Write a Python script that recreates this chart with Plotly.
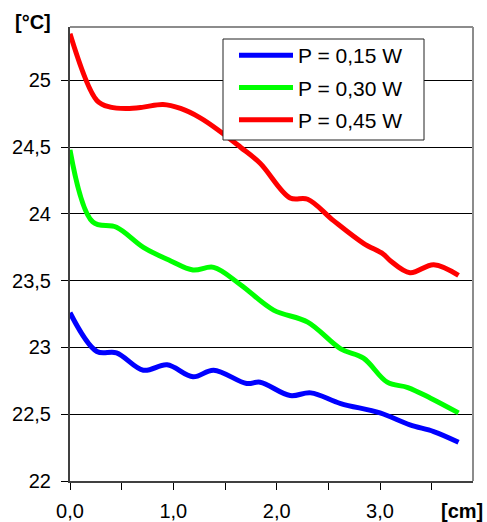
import plotly.graph_objects as go

# Data
x_blue = [0.00, 0.26, 0.45, 0.71, 0.94, 1.19, 1.39, 1.71, 1.84, 2.13, 2.33, 2.62, 3.00, 3.29, 3.52, 3.76]
y_blue = [23.26, 22.97, 22.96, 22.83, 22.87, 22.78, 22.83, 22.73, 22.74, 22.64, 22.66, 22.58, 22.51, 22.42, 22.37, 22.29]

x_green = [0.00, 0.22, 0.45, 0.71, 0.97, 1.19, 1.39, 1.65, 1.97, 2.30, 2.62, 2.84, 3.07, 3.27, 3.49, 3.76]
y_green = [24.48, 23.94, 23.90, 23.75, 23.65, 23.58, 23.60, 23.47, 23.28, 23.19, 22.99, 22.92, 22.74, 22.70, 22.62, 22.51]

x_red = [0.00, 0.26, 0.39, 0.55, 0.71, 0.90, 1.07, 1.26, 1.45, 1.65, 1.84, 2.13, 2.30, 2.55, 2.84, 3.03, 3.10, 3.29, 3.52, 3.76]
y_red = [25.35, 24.85, 24.80, 24.79, 24.80, 24.82, 24.79, 24.72, 24.62, 24.50, 24.38, 24.12, 24.11, 23.95, 23.78, 23.70, 23.65, 23.56, 23.62, 23.54]

series_names = ["P = 0,15 W", "P = 0,30 W", "P = 0,45 W"]
series_colors = ["#0000ff", "#00ff00", "#ff0000"]

x_ticks = [0, 1, 2, 3]
x_ticktext = ["0,0", "1,0", "2,0", "3,0"]
y_ticks = [22, 22.5, 23, 23.5, 24, 24.5, 25]
y_ticktext = ["22", "22,5", "23", "23,5", "24", "24,5", "25"]

FONT = "Liberation Sans, Arial, sans-serif"
W, H = 487, 522
ML, MR, MT, MB = 70, 14, 27, 41
PW, PH = W - ML - MR, H - MT - MB


def px_x(p):
    return (p - ML) / PW


def px_y(p):
    return 1 - (p - MT) / PH


fig = go.Figure()
for i, (xs, ys) in enumerate([(x_blue, y_blue), (x_green, y_green), (x_red, y_red)]):
    fig.add_trace(go.Scatter(
        x=xs, y=ys, mode="lines", name=series_names[i],
        legendgroup=f"g{i}",
        line=dict(color=series_colors[i], width=5, shape="spline", smoothing=1.0),
    ))

fig.update_layout(
    width=W, height=H,
    margin=dict(l=ML, r=MR, t=MT, b=MB, autoexpand=False),
    plot_bgcolor="white", paper_bgcolor="white",
    font=dict(family=FONT, size=20, color="black"),
    showlegend=True,
    legend=dict(
        x=px_x(234), y=px_y(35), xanchor="left", yanchor="top",
        borderwidth=0, bgcolor="rgba(0,0,0,0)",
        font=dict(size=21, family=FONT),
        itemwidth=54, tracegroupgap=2, traceorder="grouped",
    ),
    xaxis=dict(
        range=[0, 3.9], tickvals=x_ticks, ticktext=x_ticktext,
        ticks="outside", ticklen=7, tickwidth=1, tickcolor="black",
        showline=True, linecolor="#404040", linewidth=2,
        showgrid=False, zeroline=False, ticklabelstandoff=4, automargin=False,
        minor=dict(ticks="outside", dtick=0.5, tick0=0, ticklen=7, tickcolor="black", showgrid=False),
        tickfont=dict(size=20), fixedrange=True,
    ),
    yaxis=dict(
        range=[22, 25.4], tickvals=y_ticks, ticktext=y_ticktext,
        ticks="outside", ticklen=7, tickwidth=1, tickcolor="black",
        showline=True, linecolor="#404040", linewidth=2,
        showgrid=True, gridcolor="black", gridwidth=1, ticklabelstandoff=6,
        zeroline=False, tickfont=dict(size=20), fixedrange=True, automargin=False,
    ),
)

# grey frame on top/right
fig.add_shape(type="line", xref="paper", yref="paper", x0=0, x1=1, y0=1, y1=1,
              line=dict(color="#8c8c8c", width=2))
fig.add_shape(type="line", xref="paper", yref="paper", x0=1, x1=1, y0=0, y1=1,
              line=dict(color="#8c8c8c", width=2))

# legend box
fig.add_shape(type="rect", xref="paper", yref="paper",
              x0=px_x(223), x1=px_x(424), y0=px_y(140), y1=px_y(39),
              line=dict(color="#222222", width=1), fillcolor="white", layer="above")

fig.add_annotation(text="<b>[°C]</b>", xref="paper", yref="paper", x=px_x(13), y=px_y(22),
                   xanchor="left", yanchor="middle", showarrow=False,
                   font=dict(size=20, family=FONT))
fig.add_annotation(text="<b>[cm]</b>", xref="paper", yref="paper", x=px_x(485), y=px_y(511),
                   xanchor="right", yanchor="middle", showarrow=False,
                   font=dict(size=20, family=FONT))

fig.write_html("out.html")
